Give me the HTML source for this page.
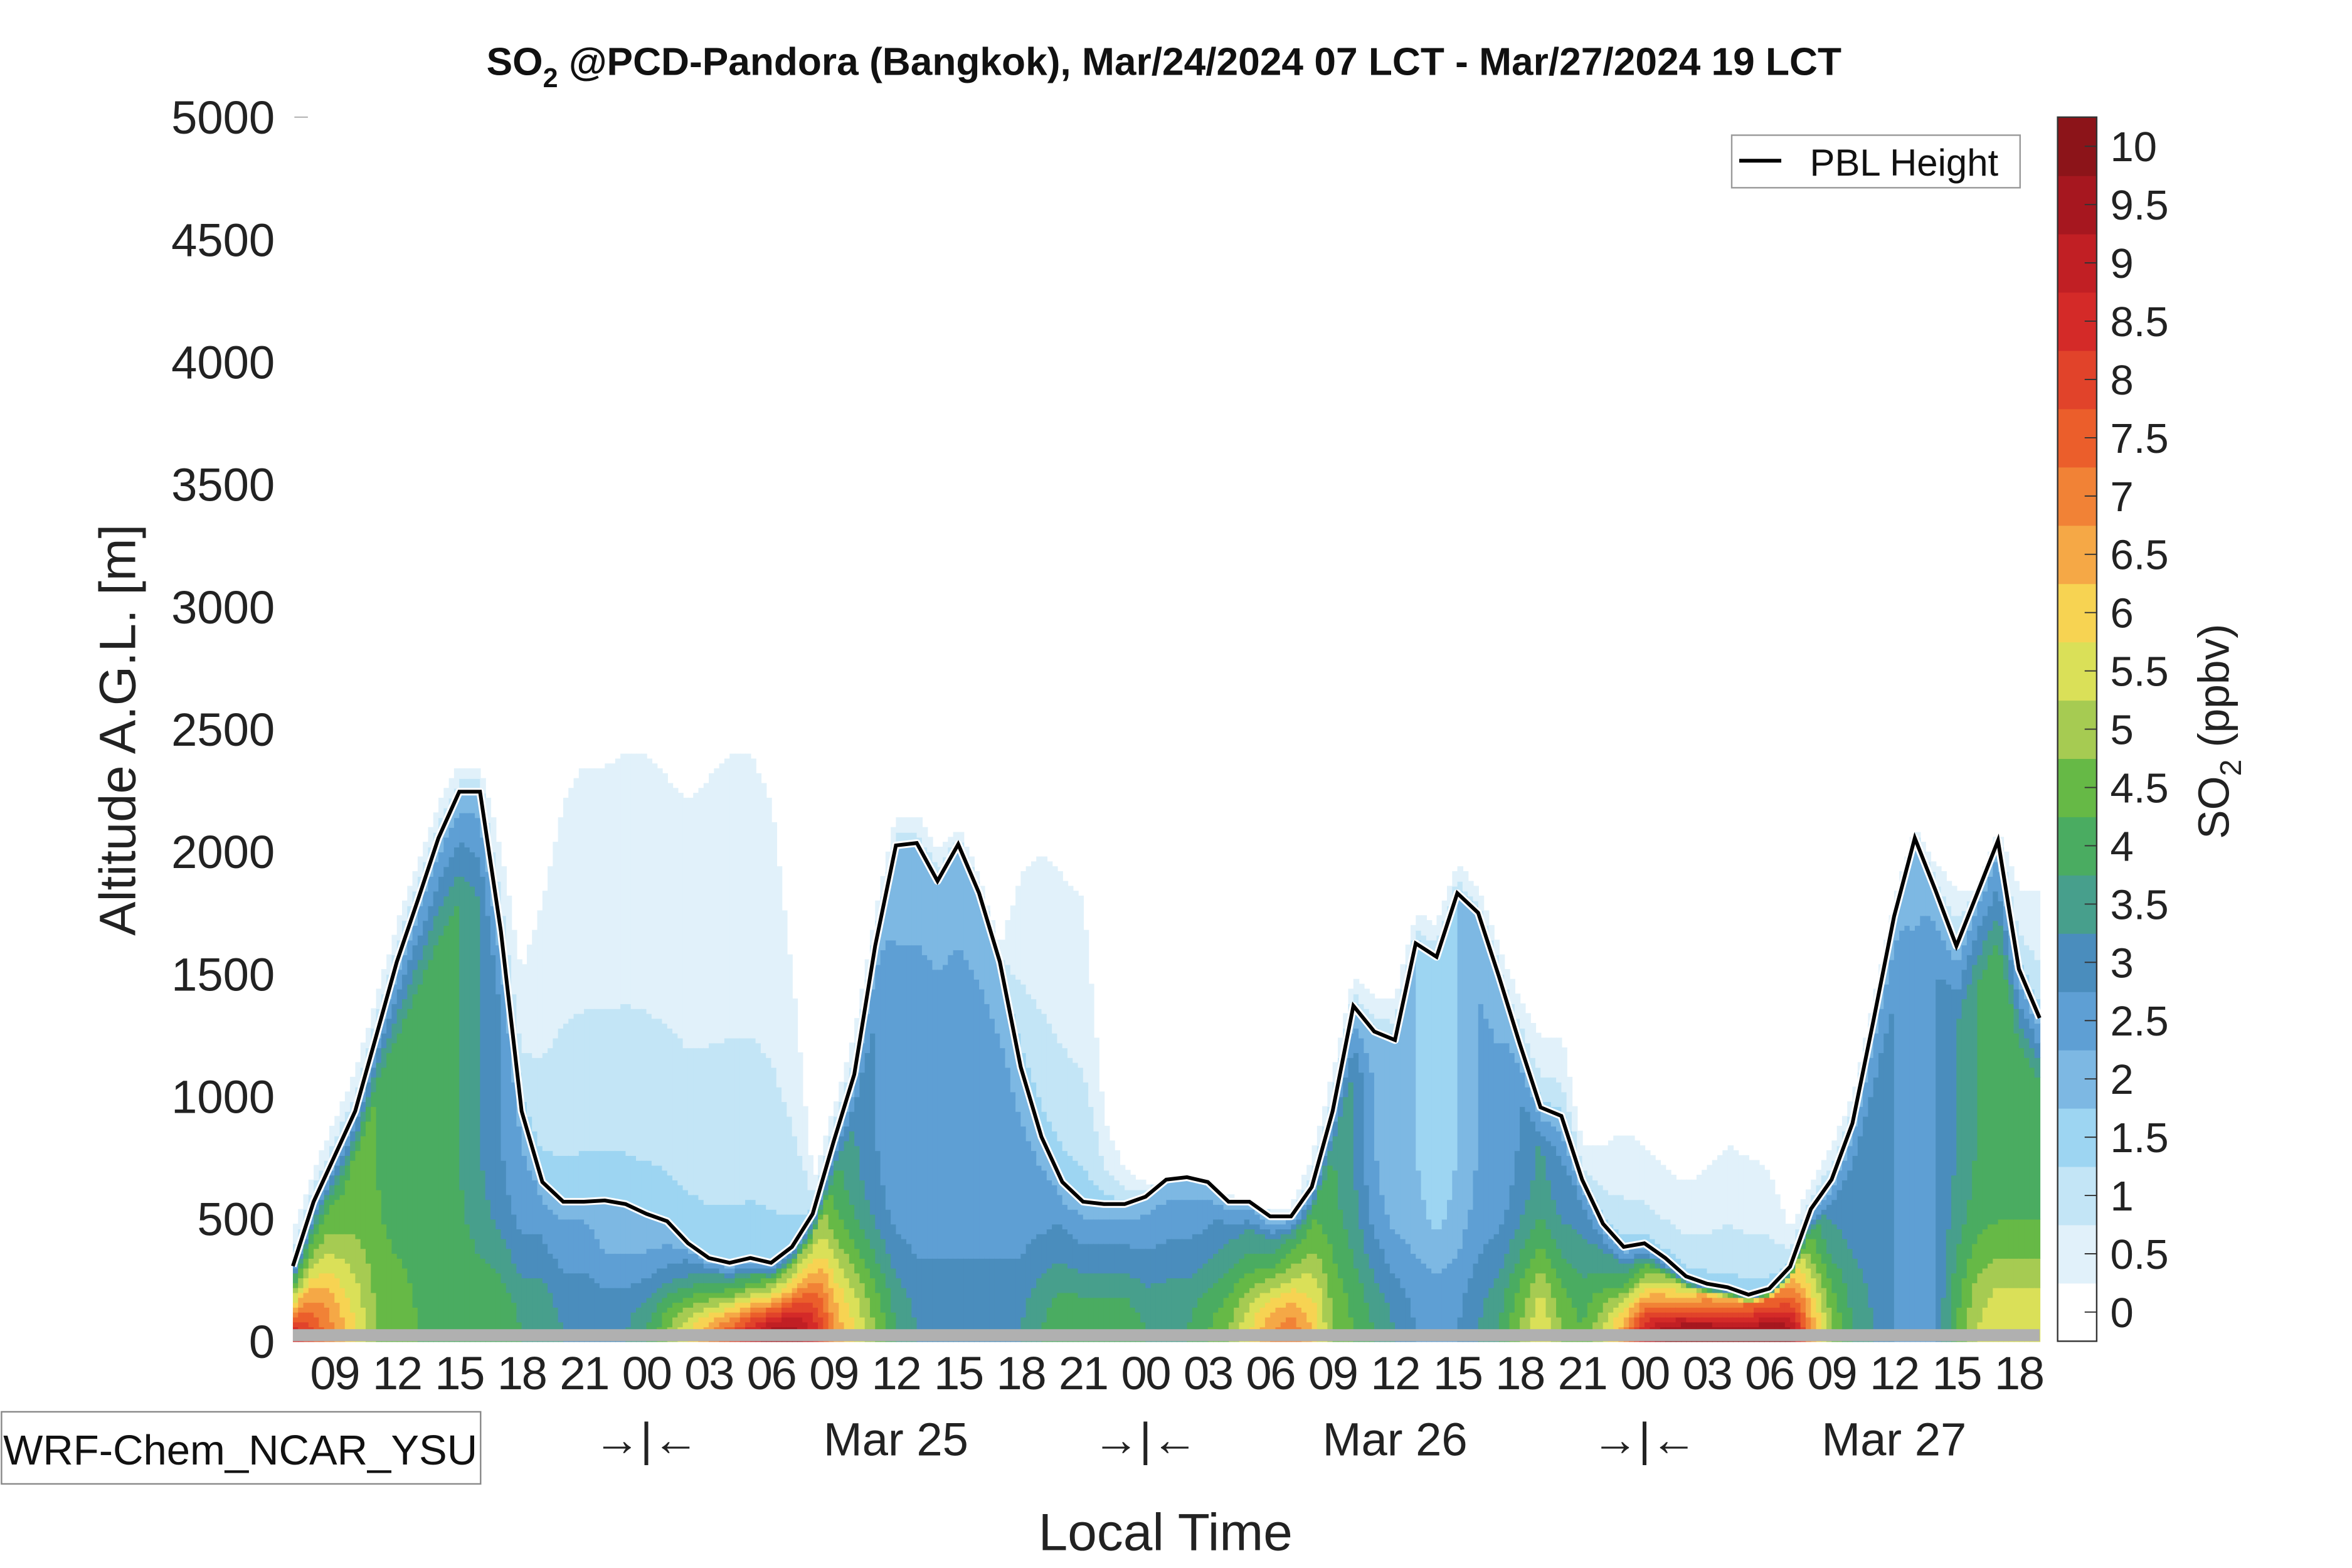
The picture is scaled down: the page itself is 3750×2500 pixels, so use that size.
<!DOCTYPE html>
<html><head><meta charset="utf-8">
<style>
html,body{margin:0;padding:0;background:#fff;}
svg{display:block;font-family:"Liberation Sans",sans-serif;}
</style></head>
<body>
<svg id="chart" width="3750" height="2500" viewBox="0 0 1566 1044" preserveAspectRatio="none">
<text x="775" y="50" text-anchor="middle" font-size="26" font-weight="bold" fill="#111">SO<tspan font-size="18" dy="8">2</tspan><tspan dy="-8"> @PCD-Pandora (Bangkok), Mar/24/2024 07 LCT - Mar/27/2024 19 LCT</tspan></text>
<g id="cells"></g>
<rect x="195" y="885" width="1163" height="8" fill="#b0b0b0"/>
<g id="pbl"></g>
<g id="yaxis"></g>
<line x1="196" y1="78" x2="205" y2="78" stroke="#bbb" stroke-width="1"/>
<text transform="translate(90,486) rotate(-90)" text-anchor="middle" font-size="34" fill="#222">Altitude A.G.L. [m]</text>
<g id="xaxis"></g>
<text x="776" y="1034" text-anchor="middle" font-size="35" fill="#222" dy="-2">Local Time</text>
<g>
<rect x="1" y="940" width="319" height="48" fill="#fff" stroke="#888" stroke-width="1"/>
<text x="160" y="975" text-anchor="middle" font-size="28" fill="#111">WRF-Chem_NCAR_YSU</text>
</g>
<g>
<rect x="1153" y="90" width="192" height="35" fill="#fff" stroke="#999" stroke-width="1"/>
<line x1="1158" y1="107" x2="1186" y2="107" stroke="#000" stroke-width="2.5"/>
<text x="1205" y="117" font-size="25" fill="#111">PBL Height</text>
</g>
<g id="cbar"></g>
<text transform="translate(1484,487) rotate(-90)" text-anchor="middle" font-size="29" fill="#222">SO<tspan font-size="20" dy="8">2</tspan><tspan dy="-8"> (ppbv)</tspan></text>
</svg>
<script>
const pblHeight=[307,570,755,940,1245,1550,1800,2055,2245,2245,1675,940,650,570,570,575,560,520,490,400,340,320,340,320,385,520,815,1090,1615,2025,2035,1880,2030,1830,1550,1120,835,650,570,560,560,590,660,670,650,570,570,510,510,630,940,1370,1265,1230,1625,1570,1830,1750,1490,1215,955,920,660,480,385,400,340,265,235,220,190,215,305,540,660,890,1305,1735,2055,1840,1615,1830,2045,1520,1320];
const surfaceConc=[9,8,7,6,5,5,4.5,4.5,4.5,4.5,4.5,4,4,3.5,3.5,3.5,3.5,4,5,6,7,8,9,10,10,9,7,6,5,4,3.5,3.5,3.5,3.5,3.5,3.5,4,4.5,4.5,4.5,4.5,4,4,4,4.5,5,6,7,7.5,6.5,5,4.5,4,3.5,3,3,3,3.5,4,5,6,5,4.5,5.5,7,9,10,10.5,10.5,10.5,10.5,10.5,10,7,5,4,3.5,3,3,3,4.5,5.5,6,6,6];
const mixedConc=[3,3.5,4,4.5,4.5,4,4,4,4,3.5,3,2.5,2.5,2.5,2.5,2,2,2,2,2.5,3,3,3,3.5,4,4.5,4,3.5,3,2.5,2.5,2.5,2.5,2.5,2.5,2.5,2.5,2.5,2.5,2.5,2.5,2.5,2.5,2.5,2.5,3,3,3,3.5,4,4,3.5,2.5,2,2,1.5,2,2.5,2.5,3,3.5,3,3,3,3,3.5,4,5,6,6,7,7,6,4,3,3,3,3,2.5,3,3.5,4,4,4,4];
const plumeTop=[450,700,900,1100,1400,1700,1950,2200,2350,2350,2000,1500,1800,2200,2350,2350,2400,2400,2300,2200,2300,2400,2400,2200,1500,650,950,1250,1750,2150,2150,2000,2100,1900,1600,1900,2000,1900,1800,900,700,650,650,650,600,600,550,550,550,750,1100,1500,1400,1400,1750,1700,1950,1850,1600,1400,1250,1250,800,800,850,800,700,650,700,800,750,700,450,650,800,1000,1400,1800,2100,1950,1850,1850,2100,1850,1850];
const colorLevels=["#ffffff","#e1f1fa","#c3e5f6","#9dd5f2","#7db8e3","#5e9fd4","#4a8dbd","#479f8c","#4aac61","#66b946","#a6cb52","#dae058","#f7d352","#f5a846","#f18236","#eb5e2b","#e1432a","#d42a28","#c11f24","#a6171f","#8c1419"];
const cbarLabels=["0","0.5","1","1.5","2","2.5","3","3.5","4","4.5","5","5.5","6","6.5","7","7.5","8","8.5","9","9.5","10"];
const hourLabels=["09","12","15","18","21","00","03","06","09","12","15","18","21","00","03","06","09","12","15","18","21","00","03","06","09","12","15","18"];
const hourLabelPos=[2,5,8,11,14,17,20,23,26,29,32,35,38,41,44,47,50,53,56,59,62,65,68,71,74,77,80,83];
const dayLabels=["→|←","Mar 25","→|←","Mar 26","→|←","Mar 27"];
const dayLabelPos=[17,29,41,53,65,77];
const yTicks=[0,500,1000,1500,2000,2500,3000,3500,4000,4500,5000];

const NS="http://www.w3.org/2000/svg";
const X0=195,X1=1358,Y0=893,Y1=78,HMAX=84,ZMAX=5000;
const xs=h=>X0+(X1-X0)*h/HMAX;
const ys=z=>Y0-(Y0-Y1)*z/ZMAX;
function mk(tag,attrs,parent){const e=document.createElementNS(NS,tag);for(const k in attrs)e.setAttribute(k,attrs[k]);parent.appendChild(e);return e;}
function lerpArr(a,h){const i=Math.floor(h),f=h-i;if(i>=a.length-1)return a[a.length-1];return a[i]*(1-f)+a[i+1]*f;}
function conc(h,z){
  const p=lerpArr(pblHeight,h),s=lerpArr(surfaceConc,h),m=lerpArr(mixedConc,h),t=lerpArr(plumeTop,h);
  if(z<=p){
    const L=Math.min(420,p*0.6);
    let c=m+(s-m)*Math.exp(-Math.pow(z/L,2));
    const f=z/p; if(f>0.8){const w=(f-0.8)/0.2;c=c*(1-w)+Math.min(c,2.2)*w;}
    return c;
  }
  if(z>=t) return 0.2;
  return 0.5+1.2*Math.pow(1-(z-p)/(t-p),1.5);
}
function colorFor(c){let k=Math.floor(c/0.5);if(k<0)k=0;if(k>20)k=20;return colorLevels[k];}
const cells=document.getElementById('cells');
const dz=20,SUB=4;
for(let j=0;j<HMAX*SUB;j++){
  const h=(j+0.5)/SUB;
  const xa=xs(j/SUB),xb=xs((j+1)/SUB);
  let z=0;
  while(z<2600){
    const c=conc(h,z+dz/2),col=colorFor(c);
    let z2=z+dz;
    while(z2<2600&&colorFor(conc(h,z2+dz/2))===col) z2+=dz;
    if(c>=0.5){
      const r=mk('rect',{x:xa,y:ys(z2),width:xb-xa+0.5,height:ys(z)-ys(z2)+0.5,fill:col},cells);
      
      
    }
    z=z2;
  }
}
const pg=document.getElementById('pbl');
const pts=pblHeight.map((v,i)=>xs(i).toFixed(1)+','+ys(v).toFixed(1)).join(' ');
const halo=mk('polyline',{points:pts,fill:'none',stroke:'#fff','stroke-width':5,'stroke-linejoin':'round'},pg);


const ln=mk('polyline',{points:pts,fill:'none',stroke:'#000','stroke-width':2.5,'stroke-linejoin':'miter'},pg);


const ya=document.getElementById('yaxis');
yTicks.forEach(v=>{
  const t=mk('text',{x:183,y:ys(v)+11,'text-anchor':'end','font-size':31,fill:'#222'},ya);
  t.textContent=v;
  
  
});
const xa=document.getElementById('xaxis');
hourLabels.forEach((l,i)=>{
  const t=mk('text',{x:xs(hourLabelPos[i]),y:925,'text-anchor':'middle','font-size':31,fill:'#222','letter-spacing':'-1'},xa);
  t.textContent=l;
  
  
});
dayLabels.forEach((l,i)=>{
  const t=mk('text',{x:xs(dayLabelPos[i]),y:969,'text-anchor':'middle','font-size':31,fill:'#222'},xa);
  t.textContent=l;
  
  
});
const cb=document.getElementById('cbar');
const CB0=893,CB1=78,nb=colorLevels.length,bh=(CB0-CB1)/nb;
colorLevels.forEach((c,k)=>{
  const r=mk('rect',{x:1370,y:CB0-(k+1)*bh,width:26,height:bh+0.4,fill:c},cb);
  
  
});
const fr=mk('rect',{x:1370,y:CB1,width:26,height:CB0-CB1,fill:'none',stroke:'#333','stroke-width':1},cb);


cbarLabels.forEach((l,k)=>{
  const y=CB0-(k+0.5)*bh;
  const tk=mk('line',{x1:1388,y1:y,x2:1396,y2:y,stroke:'#333','stroke-width':0.8},cb);
  
  
  const t=mk('text',{x:1405,y:y+10,'font-size':28,fill:'#222'},cb);
  t.textContent=l;
  
  
});
</script>
</body></html>
